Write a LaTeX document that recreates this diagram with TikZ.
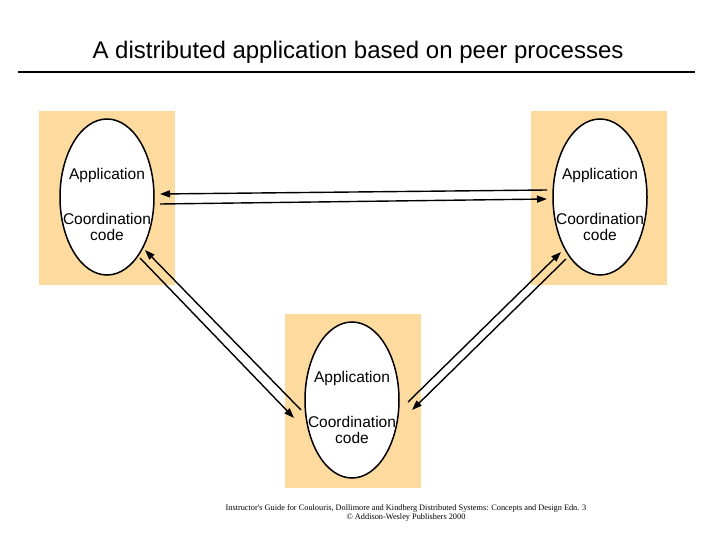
\documentclass[tikz,border=0pt]{standalone}
\usepackage{fontspec}
\setmainfont{Liberation Sans}
\newfontfamily\timesfont{Liberation Serif}
\usetikzlibrary{shapes.geometric,arrows.meta}
\definecolor{peerbg}{RGB}{253,218,158}
\tikzset{
  peerbox/.style={fill=peerbg,draw=none,minimum width=136pt,minimum height=174pt},
  proc/.style={draw,fill=white,ellipse,line width=1.5pt,minimum width=94pt,minimum height=156pt},
  lbl/.style={font=\fontsize{15.5}{16}\selectfont,align=center},
  msg/.style={line width=1.4pt,-{Triangle[length=10pt,width=7pt]}}
}
\begin{document}
\begin{tikzpicture}[x=1pt,y=-1pt]
	\useasboundingbox (0,0) rectangle (720,540);
	\node[font=\fontsize{24}{26}\selectfont] (title) at (358,52) {A distributed application based on peer processes};
	\draw[line width=2.5pt] (18,72) -- (695,72);
	% peers
	\node[peerbox] (bl) at (107,198) {};
	\node[peerbox] (br) at (599,198) {};
	\node[peerbox] (bb) at (353,401) {};
	\node[proc] (pl) at (107,197) {};
	\node[proc] (pr) at (600,197) {};
	\node[proc] (pb) at (352,400) {};
	\foreach \p/\x/\y in {l/107/197,r/600/197,b/352/400}{
		\node[lbl] (app\p) at (\x,\y-22) {Application};
		\node[lbl] (crd\p) at (\x,\y+30) {Coordination\\code};
	}
	% messages
	\coordinate (a1) at (160,194); \coordinate (a2) at (547,190);
	\coordinate (a3) at (160,204); \coordinate (a4) at (547,199);
	\draw[msg] (a2) -- (a1);
	\draw[msg] (a3) -- (a4);
	\coordinate (b1) at (145,250); \coordinate (b2) at (301,410);
	\coordinate (b3) at (140,258); \coordinate (b4) at (294,418);
	\draw[msg] (b2) -- (b1);
	\draw[msg] (b3) -- (b4);
	\coordinate (c1) at (561,252); \coordinate (c2) at (408,402);
	\coordinate (c3) at (566,259); \coordinate (c4) at (412,410);
	\draw[msg] (c2) -- (c1);
	\draw[msg] (c3) -- (c4);
	\node[font=\timesfont\fontsize{8.3}{9.5}\selectfont,align=center] (foot) at (406,513) {Instructor's Guide for Coulouris, Dollimore and Kindberg Distributed Systems: Concepts and Design Edn. 3\\\copyright{} Addison-Wesley Publishers 2000};
\end{tikzpicture}
\end{document}
